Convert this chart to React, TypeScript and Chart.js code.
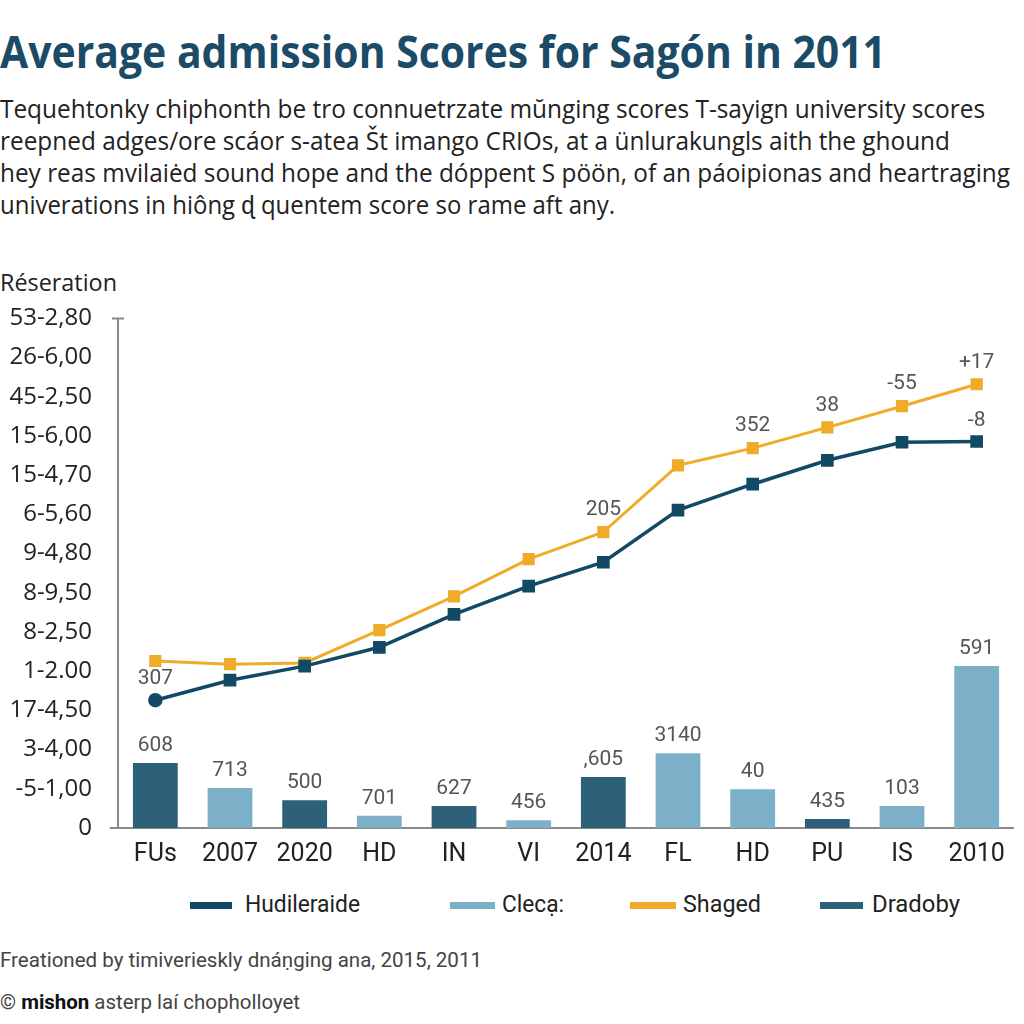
import React, { useEffect, useLayoutEffect, useRef } from "react";
import { Chart, registerables } from "chart.js";

Chart.register(...registerables);

const categories = ["FUs", "2007", "2020", "HD", "IN", "VI", "2014", "FL", "HD", "PU", "IS", "2010"];
const yTickLabels = ["53-2,80", "26-6,00", "45-2,50", "15-6,00", "15-4,70", "6-5,60", "9-4,80", "8-9,50", "8-2,50", "1-2.00", "17-4,50", "3-4,00", "-5-1,00", "0"];

const hudileraide = [3.26, 3.77, 4.13, 4.61, 5.45, 6.17, 6.78, 8.11, 8.77, 9.38, 9.84, 9.86];
const shaged = [4.26, 4.18, 4.21, 5.05, 5.91, 6.86, 7.55, 9.25, 9.69, 10.22, 10.76, 11.32];
const dradoby = [1.66, null, 0.71, null, 0.56, null, 1.3, null, null, 0.23, null, null];
const cleca = [null, 1.02, null, 0.31, null, 0.2, null, 1.91, 0.99, null, 0.56, 4.13];

const barLabels = ["608", "713", "500", "701", "627", "456", ",605", "3140", "40", "435", "103", "591"];
const hudLabels = ["307", null, null, null, null, null, null, null, null, null, null, "-8"];
const shagedLabels = [null, null, null, null, null, null, "205", null, "352", "38", "-55", "+17"];

const subtitleLines = [
  "Tequehtonky chiphonth be tro connuetrzate mŭnging scores  T-sayign university scores",
  "reepned adges/ore scáor s-atea Št imango CRIOs, at a ünlurakungls aith the ghound",
  "hey reas mvilaiėd sound hope and the dóppent S pöön, of an páoipionas and heartraging",
  "univerations in hiông ɖ quentem score so rame aft any.",
];

const NAVY = "#124a66";
const ORANGE = "#f0ab28";
const DARKBAR = "#2d6079";
const LIGHTBAR = "#7cb0c8";

function FitText(props: { text: React.ReactNode; left: number; cy: number; width: number; size: number; style?: React.CSSProperties }) {
  const ref = useRef<HTMLSpanElement>(null);
  useLayoutEffect(() => {
    const el = ref.current;
    if (!el) return;
    el.style.transform = "none";
    const w = el.getBoundingClientRect().width;
    if (w > 0) el.style.transform = `scaleX(${props.width / w})`;
  }, [props.text, props.width]);
  return (
    <span
      ref={ref}
      style={{
        position: "absolute",
        left: props.left,
        top: props.cy - props.size * 0.6,
        fontSize: props.size,
        lineHeight: `${props.size * 1.2}px`,
        whiteSpace: "nowrap",
        transformOrigin: "0 0",
        fontFamily: "'Open Sans', sans-serif",
        color: "#222",
        ...props.style,
      }}
    >
      {props.text}
    </span>
  );
}

const labelPlugin = {
  id: "valueLabels",
  afterDatasetsDraw(chart: any) {
    const ctx = chart.ctx;
    ctx.save();
    ctx.font = "21px Roboto";
    ctx.fillStyle = "#555";
    ctx.textAlign = "center";
    ctx.textBaseline = "middle";
    chart.data.datasets.forEach((ds: any, di: number) => {
      const labels = ds.valueLabels as (string | null)[] | undefined;
      if (!labels) return;
      const meta = chart.getDatasetMeta(di);
      meta.data.forEach((el: any, i: number) => {
        const t = labels[i];
        const v = ds.data[i];
        if (t == null || v == null) return;
        ctx.fillText(t, el.x, el.y - ds.labelOffset);
      });
    });
    ctx.restore();
  },
};

const axisPlugin = {
  id: "axisLines",
  beforeDatasetsDraw(chart: any) {
    const { ctx, chartArea } = chart;
    ctx.save();
    ctx.strokeStyle = "#8a8a8a";
    ctx.lineWidth = 2;
    ctx.beginPath();
    ctx.moveTo(chartArea.left, chartArea.top);
    ctx.lineTo(chartArea.left, chartArea.bottom);
    ctx.moveTo(chartArea.left - 6, chartArea.top);
    ctx.lineTo(chartArea.left + 6, chartArea.top);
    ctx.moveTo(chartArea.left - 8, chartArea.bottom);
    ctx.lineTo(chartArea.right, chartArea.bottom);
    ctx.stroke();
    ctx.restore();
  },
};

function ChartCanvas() {
  const ref = useRef<HTMLCanvasElement>(null);
  useEffect(() => {
    if (!ref.current) return;
    const chart = new Chart(ref.current, {
      type: "bar",
      data: {
        labels: categories,
        datasets: [
          {
            type: "line",
            label: "Hudileraide",
            data: hudileraide,
            borderColor: NAVY,
            backgroundColor: NAVY,
            borderWidth: 3.5,
            pointStyle: hudileraide.map((_, i) => (i === 0 ? "circle" : "rect")),
            pointRadius: hudileraide.map((_, i) => (i === 0 ? 5.5 : 6.5)),
            tension: 0,
            valueLabels: hudLabels,
            labelOffset: 21,
          } as any,
          {
            type: "line",
            label: "Shaged",
            data: shaged,
            borderColor: ORANGE,
            backgroundColor: ORANGE,
            borderWidth: 3,
            pointStyle: "rect",
            pointRadius: 6.5,
            tension: 0,
            valueLabels: shagedLabels,
            labelOffset: 22,
          } as any,
          {
            type: "bar",
            label: "Clecạ:",
            data: cleca,
            backgroundColor: LIGHTBAR,
            barPercentage: 0.6,
            categoryPercentage: 1,
            skipNull: true,
            valueLabels: barLabels,
            labelOffset: 17,
          } as any,
          {
            type: "bar",
            label: "Dradoby",
            data: dradoby,
            backgroundColor: DARKBAR,
            barPercentage: 0.6,
            categoryPercentage: 1,
            skipNull: true,
            valueLabels: barLabels,
            labelOffset: 17,
          } as any,
        ],
      },
      options: {
        animation: false,
        responsive: false,
        layout: { padding: { top: 18, right: 6, left: 0, bottom: 0 } },
        plugins: { legend: { display: false }, tooltip: { enabled: false }, title: { display: false } },
        scales: {
          x: {
            stacked: true,
            offset: true,
            grid: { display: false, drawTicks: false },
            border: { display: false },
            ticks: { color: "#222", font: { family: "Roboto", size: 25 }, padding: 12, maxRotation: 0, autoSkip: false },
            afterFit: (s: any) => {
              s.height = 52;
            },
          },
          y: {
            min: 0,
            max: 13,
            grid: { display: false, drawTicks: false },
            border: { display: false },
            ticks: {
              stepSize: 1,
              color: "#222",
              padding: 26,
              font: { family: "'Open Sans'", size: 24 },
              callback: (v: any) => yTickLabels[13 - Number(v)] ?? "",
            },
            afterFit: (s: any) => {
              s.width = 118;
            },
          },
        },
      },
      plugins: [axisPlugin, labelPlugin],
    });
    return () => chart.destroy();
  }, []);
  return <canvas ref={ref} width={1024} height={602} style={{ position: "absolute", left: 0, top: 278, width: 1024, height: 602 }} />;
}

function LegendItem(props: { color: string; x: number; swW: number; textX: number; text: string; textW: number }) {
  return (
    <>
      <div style={{ position: "absolute", left: props.x, top: 902, width: props.swW, height: 7, background: props.color }} />
      <FitText text={props.text} left={props.textX} cy={905} width={props.textW} size={23} style={{ fontFamily: "Roboto" }} />
    </>
  );
}

export default function App() {
  return (
    <div style={{ position: "absolute", left: 0, top: 0, width: 1024, height: 1024, background: "#fff", overflow: "hidden" }}>
      <FitText
        text="Average admission Scores for Sagón in 2011"
        left={0}
        cy={51}
        width={886}
        size={44}
        style={{ fontWeight: 700, color: "#1b4b67" }}
      />
      {subtitleLines.map((t, i) => (
        <FitText key={i} text={t} left={0} cy={108 + i * 32} width={[985, 950, 1010, 615][i]} size={25} />
      ))}
      <FitText text="Réseration" left={0} cy={282} width={117} size={24} />
      <ChartCanvas />
      <LegendItem color={NAVY} x={190} swW={42} textX={245} text="Hudileraide" textW={115} />
      <LegendItem color={LIGHTBAR} x={450} swW={45} textX={502} text="Clecạ:" textW={62} />
      <LegendItem color={ORANGE} x={630} swW={46} textX={683} text="Shaged" textW={78} />
      <LegendItem color={DARKBAR} x={820} swW={43} textX={872} text="Dradoby" textW={88} />
      <FitText
        text="Freationed by timiverieskly dnáṇging ana, 2015, 2011"
        left={0}
        cy={961}
        width={482}
        size={21}
        style={{ fontFamily: "Roboto", color: "#444" }}
      />
      <FitText
        text={
          <>
            © <b style={{ color: "#111" }}>mishon</b> asterp laí chopholloyet
          </>
        }
        left={0}
        cy={1003}
        width={300}
        size={21}
        style={{ fontFamily: "Roboto", color: "#444" }}
      />
    </div>
  );
}
